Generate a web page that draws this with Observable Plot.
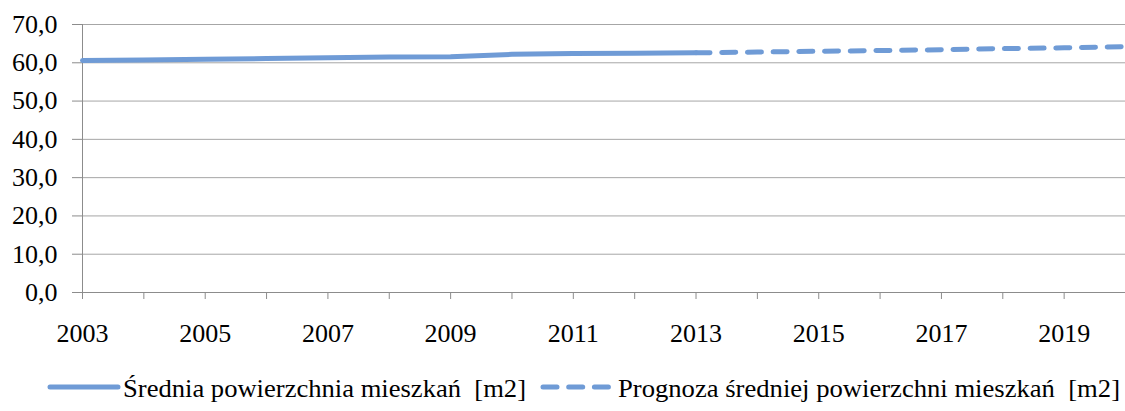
<!DOCTYPE html>
<html><head><meta charset="utf-8">
<script src="https://cdn.jsdelivr.net/npm/d3@7"></script>
<script src="https://cdn.jsdelivr.net/npm/@observablehq/plot@0.6"></script>
<style>body{margin:0;background:#fff;} #chart svg{display:block;}</style>
</head><body><div id="chart"></div>
<script>
const years = [2003, 2004, 2005, 2006, 2007, 2008, 2009, 2010, 2011, 2012, 2013];
const actual = [60.6, 60.7, 60.9, 61.1, 61.3, 61.5, 61.6, 62.2, 62.4, 62.5, 62.6];
const forecastYears = [2013, 2014, 2015, 2016, 2017, 2018, 2019, 2020];
const forecast = [62.6, 62.8, 63.0, 63.2, 63.4, 63.7, 63.9, 64.2];
const xTicks = [2003, 2004, 2005, 2006, 2007, 2008, 2009, 2010, 2011, 2012, 2013, 2014, 2015, 2016, 2017, 2018, 2019, 2020];
const yTicks = [0, 10, 20, 30, 40, 50, 60, 70];
const seriesNames = ["Średnia powierzchnia mieszkań  [m2]", "Prognoza średniej powierzchni mieszkań  [m2]"];

const lineColor = "#6f9bd6";
const actualData = years.map((x, i) => ({x, y: actual[i]}));
const forecastData = forecastYears.map((x, i) => ({x, y: forecast[i]}));

const plot = Plot.plot({
  width: 1125,
  height: 350,
  marginLeft: 82,
  marginRight: 0,
  marginTop: 24,
  marginBottom: 58,
  style: {fontFamily: "Liberation Serif", fontSize: "26px", color: "#000", background: "#fff"},
  x: {type: "linear", domain: [2003, 2020]},
  y: {domain: [0, 70]},
  marks: [
    Plot.gridY(yTicks, {stroke: "#a6a6a6", strokeOpacity: 1}),
    Plot.ruleX([2003], {stroke: "#8c8c8c"}),
    Plot.ruleY([0], {stroke: "#8c8c8c"}),
    Plot.axisY({ticks: yTicks, tickSize: 10, tickPadding: 15, stroke: "#8c8c8c", fill: "#000",
      tickFormat: d => d.toFixed(1).replace(".", ","), label: null}),
    Plot.axisX({ticks: xTicks, tickSize: 7, tickPadding: 24, stroke: "#8c8c8c", fill: "#000",
      tickFormat: d => (d % 2 ? String(d) : ""), label: null}),
    Plot.line(actualData, {x: "x", y: "y", stroke: lineColor, strokeWidth: 5, strokeLinecap: "round"}),
    Plot.line(forecastData, {x: "x", y: "y", stroke: lineColor, strokeWidth: 5, strokeLinecap: "round", strokeDasharray: "14,11.7"})
  ]
});
plot.querySelectorAll("text").forEach(t => {
  t.setAttribute("style", "font-family:'Liberation Serif';font-size:26px");
});
document.getElementById("chart").appendChild(plot);

// legend below
const leg = d3.select("#chart").append("svg")
  .attr("width", 1125).attr("height", 61)
  .style("display", "block");
const items = [
  {x0: 50, x1: 118, tx: 123, tl: 403, dash: null},
  {x0: 543, x1: 613, tx: 618, tl: 502, dash: "14,11.7"}
];
items.forEach((it, i) => {
  const l = leg.append("line").attr("x1", it.x0).attr("x2", it.x1).attr("y1", 37).attr("y2", 37)
    .attr("stroke", lineColor).attr("stroke-width", 5).attr("stroke-linecap", "round");
  if (it.dash) l.attr("stroke-dasharray", it.dash);
  leg.append("text").attr("x", it.tx).attr("y", 47).attr("fill", "#000")
    .attr("style", "font-family:'Liberation Serif';font-size:26px;white-space:pre")
    .attr("textLength", it.tl).attr("lengthAdjust", "spacingAndGlyphs")
    .text(seriesNames[i]);
});
</script></body></html>
